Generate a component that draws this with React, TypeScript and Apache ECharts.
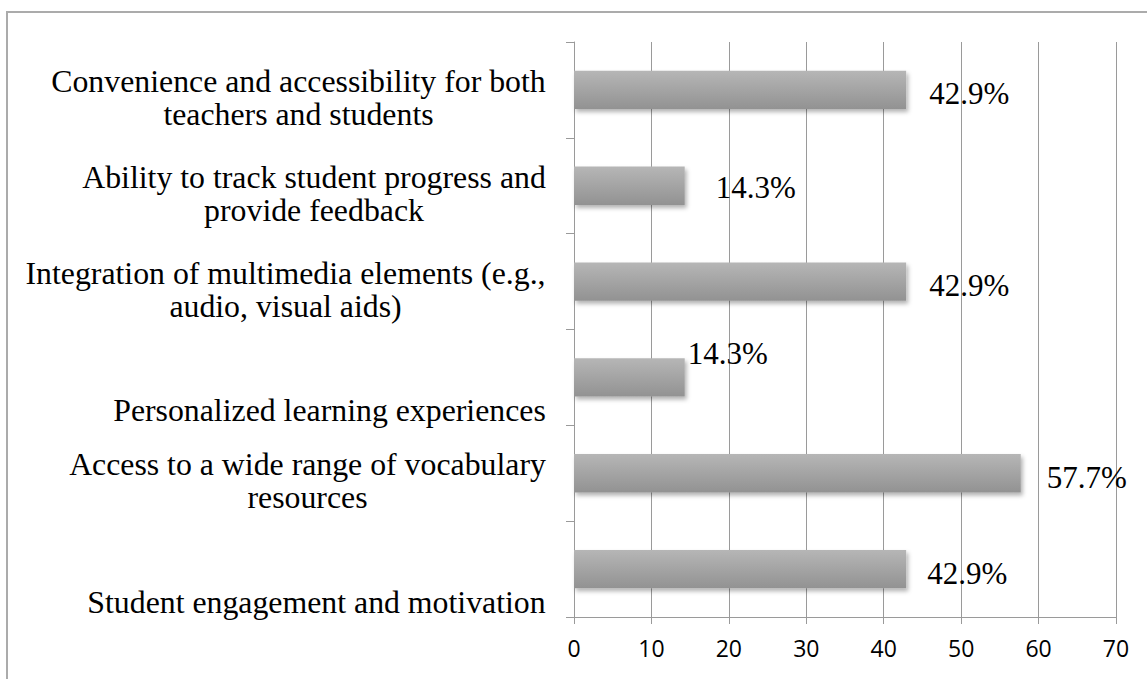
import React, { useEffect, useRef } from "react";
import * as echarts from "echarts";

const categories = [
  "Convenience and accessibility for both\nteachers and students",
  "Ability to track student progress and\nprovide feedback",
  "Integration of multimedia elements (e.g.,\naudio, visual aids)",
  "Personalized learning experiences",
  "Access to a wide range of vocabulary\nresources",
  "Student engagement and motivation",
];
const values = [42.9, 14.3, 42.9, 14.3, 57.7, 42.9];
const xMin = 0;
const xMax = 70;
const xStep = 10;

// label placement tweaks (style, not data)
const labelOffsets: number[][] = [
  [23, 4],
  [31, 2],
  [23, 4],
  [3, -24],
  [26, 4],
  [21, 4],
];

const SERIF = "'Liberation Serif', 'Times New Roman', serif";
const SANS = "'Open Sans', 'Liberation Sans', sans-serif";
const FS = 31.8;
const VFS = 31;
const LH = 33;
const GRAY = "#9a9a9a";

function measure(t: string): number {
  const ctx = document.createElement("canvas").getContext("2d");
  if (!ctx) return t.length * FS * 0.45;
  ctx.font = `${FS}px ${SERIF}`;
  return ctx.measureText(t).width;
}

export default function App() {
  const ref = useRef<HTMLDivElement>(null);
  useEffect(() => {
    if (!ref.current) return;
    const chart = echarts.init(ref.current, undefined, { renderer: "svg" });
    const rich: any = {
      g2: { height: 16, lineHeight: 16, fontSize: 1 },
      g1: { height: 66, lineHeight: 66, fontSize: 1 },
    };
    categories.forEach((c, i) => {
      const lines = c.split("\n");
      const W = Math.ceil(Math.max(...lines.map(measure))) + 2;
      rich["c" + i] = {
        width: W,
        align: "center",
        fontFamily: SERIF,
        fontSize: FS,
        lineHeight: LH,
        color: "#000",
      };
    });
    chart.setOption({
      animation: false,
      backgroundColor: "#fff",
      graphic: [
        {
          type: "rect",
          shape: { x: 7, y: 12, width: 1160, height: 700 },
          style: { fill: "none", stroke: "#ababab", lineWidth: 2 },
          silent: true,
        },
      ],
      grid: { left: 574, top: 42, right: 31, bottom: 62, containLabel: false },
      xAxis: {
        type: "value",
        min: xMin,
        max: xMax,
        interval: xStep,
        axisLine: { show: true, lineStyle: { color: GRAY, width: 1 } },
        axisTick: { show: true, length: 7, lineStyle: { color: GRAY } },
        splitLine: { show: true, lineStyle: { color: GRAY, width: 1 } },
        axisLabel: { fontFamily: SANS, fontSize: 23, color: "#000", margin: 19 },
      },
      yAxis: {
        type: "category",
        inverse: true,
        data: categories,
        axisLine: { show: true, lineStyle: { color: GRAY, width: 1 } },
        axisTick: { show: true, length: 8, lineStyle: { color: GRAY } },
        splitLine: { show: false },
        axisLabel: {
          margin: 27,
          align: "right",
          rich,
          formatter: (value: string, index: number) => {
            const lines = value.split("\n");
            const gap = lines.length > 1 ? "{g2| }" : "{g1| }";
            return gap + "\n" + lines.map((l) => `{c${index}|${l}}`).join("\n");
          },
        },
      },
      series: [
        {
          type: "bar",
          barWidth: "40%",
          data: values.map((v, i) => ({ value: v, label: { offset: labelOffsets[i] } })),
          itemStyle: {
            color: new echarts.graphic.LinearGradient(0, 0, 0, 1, [
              { offset: 0, color: "#b6b6b6" },
              { offset: 1, color: "#929292" },
            ]),
            shadowBlur: 4,
            shadowOffsetX: 2,
            shadowOffsetY: 3,
            shadowColor: "rgba(0,0,0,0.3)",
          },
          label: {
            show: true,
            position: "right",
            distance: 0,
            formatter: (p: any) => Number(p.value).toFixed(1) + "%",
            fontFamily: SERIF,
            fontSize: VFS,
            color: "#000",
          },
        },
      ],
    });
    return () => chart.dispose();
  }, []);
  return (
    <div
      ref={ref}
      style={{ position: "fixed", left: 0, top: 0, width: 1147, height: 679, background: "#fff" }}
    />
  );
}
